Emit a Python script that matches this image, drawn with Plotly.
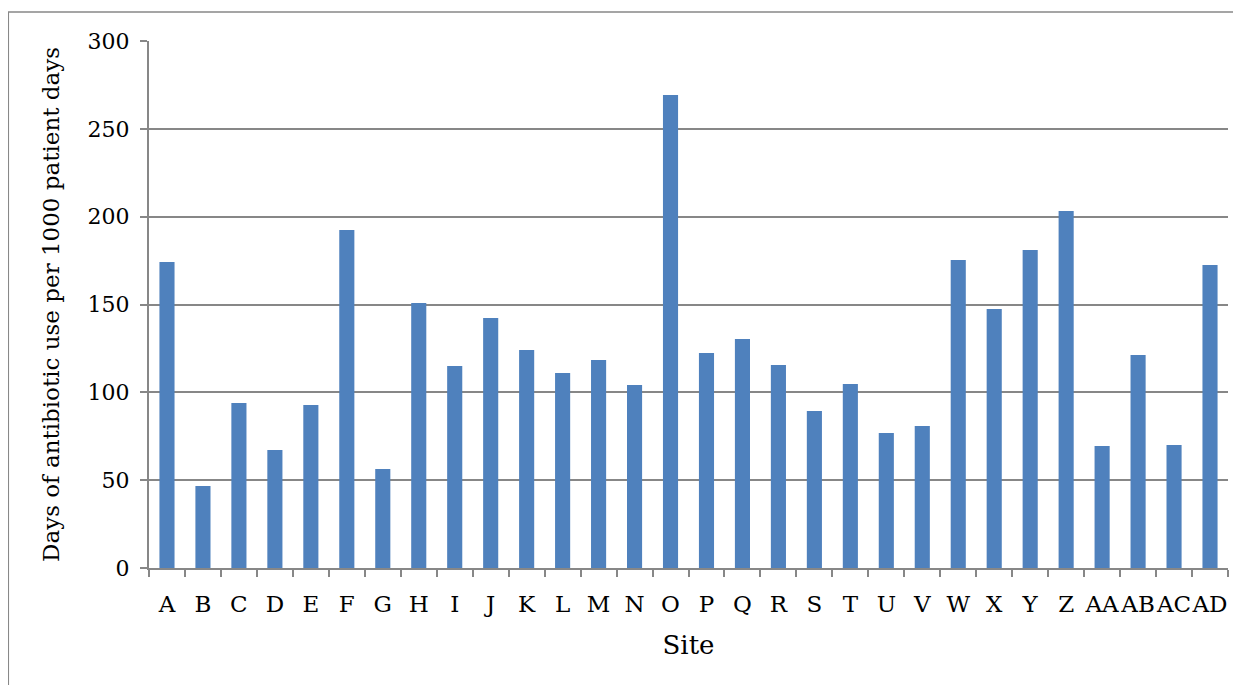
import plotly.graph_objects as go

sites = ["A","B","C","D","E","F","G","H","I","J","K","L","M","N","O",
         "P","Q","R","S","T","U","V","W","X","Y","Z","AA","AB","AC","AD"]
values = [174.2, 46.7, 93.9, 67.2, 92.8, 192.4, 56.3, 150.8, 115.0, 142.3,
          124.1, 111.0, 118.4, 104.2, 269.2, 122.4, 130.3, 115.5, 89.4, 104.7,
          76.8, 80.8, 175.3, 147.4, 181.0, 203.2, 69.4, 121.2, 70.0, 172.5]
y_ticks = [0, 50, 100, 150, 200, 250, 300]

FONT = "DejaVu Serif"

W, H = 1233, 677
L, R, T, B = 141, 13, 33, 117
PW, PH = W - L - R, H - T - B

fig = go.Figure(go.Bar(x=sites, y=values, marker=dict(color="#4F81BD", line=dict(width=0)),
                       showlegend=False))

fig.update_layout(
    width=W, height=H,
    margin=dict(l=L, r=R, t=T, b=B, autoexpand=False),
    paper_bgcolor="white", plot_bgcolor="white",
    bargap=0.58,
    font=dict(family=FONT, color="black", size=21),
    xaxis=dict(
        title=dict(text="Site", font=dict(size=26, family=FONT), standoff=20),
        tickson="boundaries", ticks="outside", ticklen=7, tickcolor="#878787", tickwidth=2,
        showline=True, linecolor="#878787", linewidth=2, tickangle=0, automargin=False,
        tickfont=dict(size=23, family=FONT), showgrid=False, ticklabelstandoff=14,
    ),
    yaxis=dict(
        title=dict(text="Days of antibiotic use per 1000 patient days", font=dict(size=23, family=FONT), standoff=22),
        range=[0, 300], tickvals=y_ticks, ticks="outside", ticklen=7, tickcolor="#878787", tickwidth=2,
        showline=True, linecolor="#878787", linewidth=2, automargin=False,
        gridcolor="#878787", gridwidth=2, zeroline=False,
        tickfont=dict(size=22, family=FONT), ticklabelstandoff=6,
    ),
    shapes=[dict(type="rect", xref="paper", yref="paper",
                 x0=(0.3 - L) / PW, x1=1.05, y0=-0.4, y1=(H - B - 4) / PH,
                 line=dict(color="#888888", width=1.5), layer="below")],
)

fig.write_html("out.html")
